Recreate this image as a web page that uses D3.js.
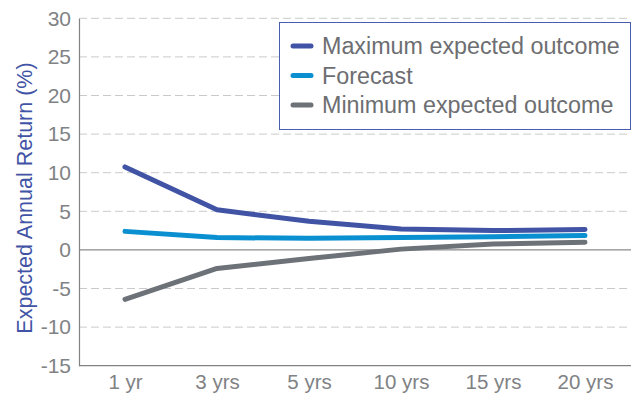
<!DOCTYPE html>
<html><head><meta charset="utf-8">
<script src="https://cdn.jsdelivr.net/npm/d3@7"></script>
<style>body{margin:0;background:#fff}svg{display:block}</style>
</head><body>
<svg id="c" width="634" height="396"></svg>
<script>
const categories = ["1 yr","3 yrs","5 yrs","10 yrs","15 yrs","20 yrs"];
const maxValues = [10.75, 5.2, 3.7, 2.7, 2.5, 2.65];
const forecastValues = [2.4, 1.6, 1.5, 1.6, 1.7, 1.85];
const minValues = [-6.4, -2.4, -1.1, 0.1, 0.75, 1.0];
const yTicks = [30,25,20,15,10,5,0,-5,-10,-15];
const seriesNames = ["Maximum expected outcome","Forecast","Minimum expected outcome"];
const seriesColors = ["#4153a5","#0a8fd0","#6d7278"];

const svg = d3.select("#c");
const m = {l:79, r:631, t:18.3, b:365.7};
const x = d3.scalePoint().domain(categories).range([m.l, m.r]).padding(0.5);
const y = d3.scaleLinear().domain([-15,30]).range([m.b, m.t]);
const font = "'Liberation Sans', Arial, Helvetica, sans-serif";

// gridlines
svg.append("g").selectAll("line").data(yTicks.filter(d=>d!==0 && d!==-15)).join("line")
  .attr("x1", m.l).attr("x2", m.r).attr("y1", d=>y(d)).attr("y2", d=>y(d))
  .attr("stroke","#c9cacc").attr("stroke-width",1).attr("stroke-dasharray","8,4");
// zero line
svg.append("line").attr("x1",m.l).attr("x2",m.r).attr("y1",y(0)).attr("y2",y(0))
  .attr("stroke","#6d6e71").attr("stroke-width",1);

// y axis
const ya = svg.append("g").attr("transform",`translate(${m.l},0)`)
  .call(d3.axisLeft(y).tickValues(yTicks).tickSize(0).tickPadding(8).tickFormat(d=>String(d)));
ya.select(".domain").attr("stroke","#808285").attr("stroke-width",1.2);
ya.selectAll("text").attr("font-family",font).attr("font-size",21).attr("fill","#808285");

// x axis
const xa = svg.append("g").attr("transform",`translate(0,${m.b})`)
  .call(d3.axisBottom(x).tickSize(0).tickPadding(9));
xa.select(".domain").attr("d",`M${m.l},0H${m.r}`).attr("stroke","#808285").attr("stroke-width",1.2);
xa.selectAll("text").attr("font-family",font).attr("font-size",20.5).attr("fill","#808285");

// y title
svg.append("text").attr("transform",`translate(32,198) rotate(-90)`)
  .attr("text-anchor","middle").attr("font-family",font).attr("font-size",21.5)
  .attr("fill","#4153a5").text("Expected Annual Return (%)");

// lines
const seriesData = [maxValues, forecastValues, minValues];
const line = d3.line().x((d,i)=>x(categories[i])).y(d=>y(d));
[2,0,1].forEach(k=>{
  svg.append("path").datum(seriesData[k]).attr("d",line).attr("fill","none")
    .attr("stroke",seriesColors[k]).attr("stroke-width",5)
    .attr("stroke-linecap","round").attr("stroke-linejoin","round");
});

// legend
const lg = svg.append("g");
lg.append("rect").attr("x",279.5).attr("y",22.5).attr("width",351).attr("height",107)
  .attr("fill","#fff").attr("stroke","#4a5cb0").attr("stroke-width",1);
seriesNames.forEach((n,i)=>{
  const cy = 46 + i*29.5;
  lg.append("line").attr("x1",293).attr("x2",311).attr("y1",cy).attr("y2",cy)
    .attr("stroke",seriesColors[i]).attr("stroke-width",5).attr("stroke-linecap","round");
  lg.append("text").attr("x",322).attr("y",cy).attr("dy","0.35em")
    .attr("font-family",font).attr("font-size",23.3).attr("fill","#6d6e71").text(n);
});
</script>
</body></html>
